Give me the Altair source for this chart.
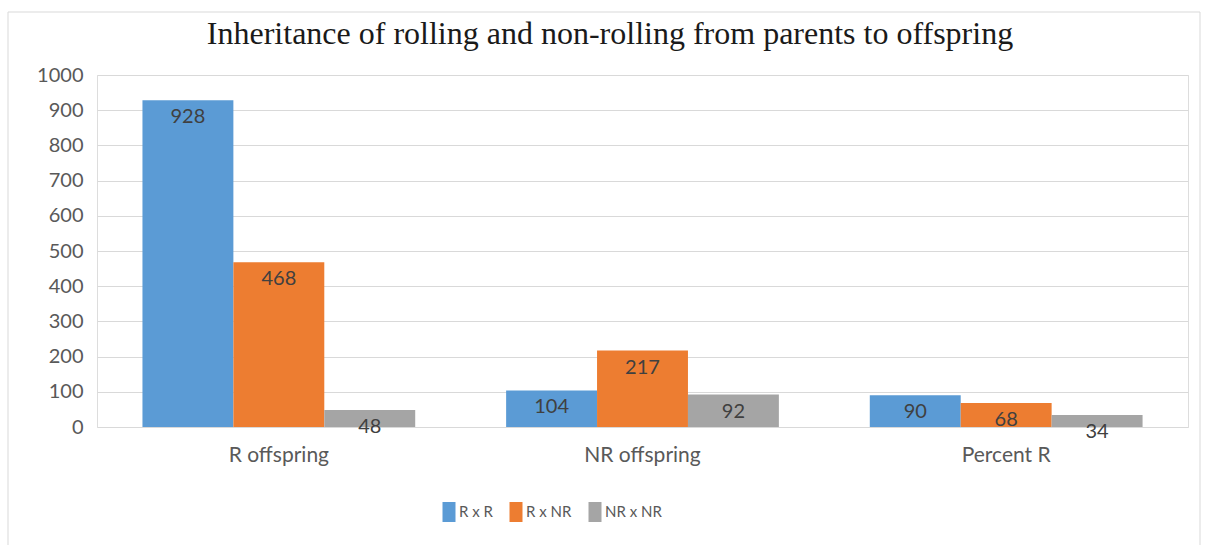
import altair as alt
import pandas as pd

# Offspring counts per cross type
categories = ["R offspring", "NR offspring", "Percent R"]
series = ["R x R", "R x NR", "NR x NR"]
r_x_r = [928, 104, 90]
r_x_nr = [468, 217, 68]
nr_x_nr = [48, 92, 34]
colors = ["#5B9BD5", "#ED7D31", "#A5A5A5"]
y_ticks = [0, 100, 200, 300, 400, 500, 600, 700, 800, 900, 1000]

rows = []
for s, vals in zip(series, [r_x_r, r_x_nr, nr_x_nr]):
    for c, v in zip(categories, vals):
        rows.append({"category": c, "series": s, "value": v})
df = pd.DataFrame(rows)

label_color = "#595959"
sans = "Lato"

x_enc = alt.X(
    "category:N",
    sort=categories,
    scale=alt.Scale(paddingInner=0.25, paddingOuter=0.125),
    axis=alt.Axis(
        title=None, labelAngle=0, domain=False, ticks=False,
        labelPadding=17, labelFontSize=21, labelColor=label_color,
        labelFont=sans, grid=False,
    ),
)
xoff_enc = alt.XOffset("series:N", sort=series,
                       scale=alt.Scale(paddingInner=0, paddingOuter=0))
# tickCount must not be below the number of explicit values,
# otherwise every other value gets dropped
y_enc = alt.Y(
    "value:Q",
    scale=alt.Scale(domain=[0, 1000], nice=False),
    axis=alt.Axis(
        values=y_ticks, tickCount=len(y_ticks), format="d",
        labelOverlap=False, title=None, domain=False, ticks=False,
        labelPadding=14, grid=True, gridColor="#d9d9d9", gridWidth=1,
        labelFontSize=20, labelColor=label_color, labelFont=sans,
    ),
)

bars = alt.Chart(df).mark_bar().encode(
    x=x_enc,
    xOffset=xoff_enc,
    y=y_enc,
    color=alt.Color(
        "series:N",
        sort=series,
        scale=alt.Scale(domain=series, range=colors),
        legend=alt.Legend(
            title=None, orient="none", direction="horizontal",
            legendX=342, legendY=427, padding=0,
            symbolType="M-0.65,-1H0.65V1H-0.65Z", symbolSize=400,
            symbolStrokeWidth=0, labelOffset=0, columnPadding=13,
            labelFontSize=15, labelColor=label_color, labelFont=sans,
        ),
    ),
)

labels = alt.Chart(df).mark_text(
    baseline="middle", dy=17, fontSize=20, color="#404040", font=sans
).encode(
    x=x_enc,
    xOffset=xoff_enc,
    y=y_enc,
    text=alt.Text("value:Q"),
)

# light outer frame around the whole chart
frame = alt.Chart(pd.DataFrame({"k": [0]})).mark_rect(
    fill="transparent", stroke="#d9d9d9", strokeWidth=1
).encode(
    x=alt.value(-89), x2=alt.value(1103),
    y=alt.value(-63), y2=alt.value(480),
)

chart = alt.layer(frame, bars, labels).properties(
    width=1091,
    height=352,
    padding={"left": 97, "top": 75, "right": 21, "bottom": 118},
    autosize=alt.AutoSizeParams(type="none"),
    title=alt.TitleParams(
        "Inheritance of rolling and non-rolling from parents to offspring",
        font="Liberation Serif", fontSize=32, fontWeight="normal",
        color="#1a1a1a", anchor="middle", frame="bounds", offset=-39, dx=6,
    ),
).configure_view(stroke="transparent").configure(background="white")

chart.save("out.html", embed_options={"renderer": "svg", "actions": False})
